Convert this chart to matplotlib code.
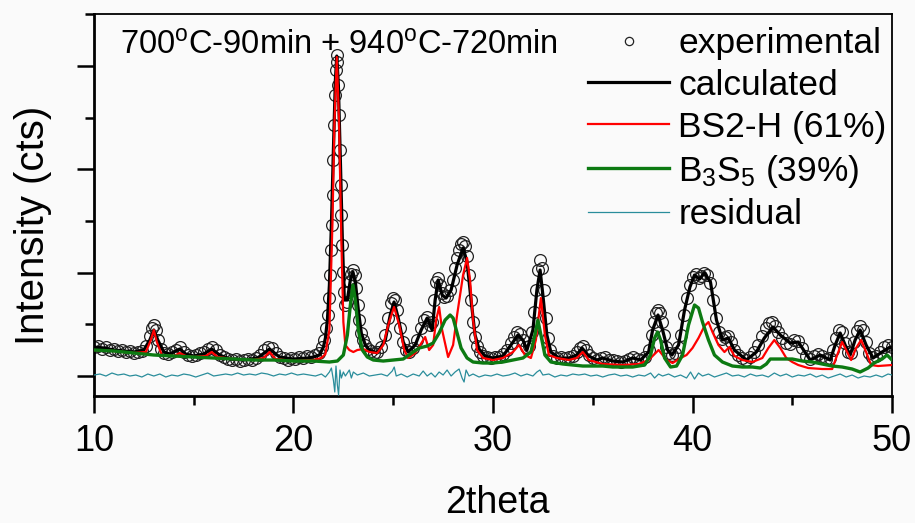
import matplotlib
matplotlib.use("Agg")
import matplotlib.pyplot as plt
from matplotlib.ticker import MultipleLocator

plt.rcParams['font.family'] = ['Liberation Sans', 'DejaVu Sans']
plt.rcParams['mathtext.default'] = 'regular'

# experimental points (2theta, counts)
exp_2theta = [10.0, 10.2, 10.4, 10.6, 10.8, 11.0, 11.2, 11.4, 11.6, 11.8, 12.0, 12.2, 12.4, 12.6, 12.8, 12.9,
              13.0, 13.1, 13.2, 13.35, 13.5, 13.7, 13.9, 14.1, 14.3, 14.5, 14.7, 14.9, 15.1, 15.3, 15.5, 15.7,
              15.9, 16.1, 16.3, 16.5, 16.7, 16.9, 17.1, 17.3, 17.5, 17.7, 17.9, 18.1, 18.3, 18.5, 18.7, 18.9,
              19.1, 19.3, 19.5, 19.7, 19.9, 20.1, 20.3, 20.5, 20.7, 20.9, 21.1, 21.3, 21.45, 21.55, 21.65, 21.72,
              21.78, 21.84, 21.88, 21.92, 21.96, 22.0, 22.04, 22.08, 22.12, 22.16, 22.2, 22.24, 22.28, 22.32,
              22.36, 22.4, 22.44, 22.48, 22.52, 22.58, 22.66, 22.74, 22.82, 22.9, 22.98, 23.06, 23.14, 23.22,
              23.3, 23.4, 23.5, 23.6, 23.75, 23.9, 24.05, 24.2, 24.4, 24.6, 24.75, 24.9, 25.0, 25.1, 25.2, 25.35,
              25.5, 25.65, 25.8, 26.0, 26.2, 26.4, 26.55, 26.7, 26.85, 26.95, 27.05, 27.15, 27.25, 27.35, 27.45,
              27.55, 27.7, 27.85, 28.0, 28.1, 28.2, 28.3, 28.4, 28.5, 28.6, 28.7, 28.8, 28.9, 29.0, 29.1, 29.2,
              29.35, 29.5, 29.7, 29.9, 30.1, 30.3, 30.5, 30.7, 30.9, 31.05, 31.2, 31.35, 31.5, 31.65, 31.8, 31.95,
              32.05, 32.15, 32.25, 32.35, 32.45, 32.55, 32.65, 32.75, 32.85, 33.0, 33.2, 33.4, 33.6, 33.8, 34.0,
              34.2, 34.35, 34.5, 34.65, 34.8, 35.0, 35.2, 35.4, 35.6, 35.8, 36.0, 36.2, 36.4, 36.6, 36.8, 37.0,
              37.2, 37.4, 37.6, 37.8, 37.95, 38.05, 38.15, 38.25, 38.35, 38.45, 38.55, 38.65, 38.8, 38.95, 39.1,
              39.25, 39.4, 39.55, 39.7, 39.85, 40.0, 40.15, 40.3, 40.45, 40.6, 40.75, 40.9, 41.05, 41.2, 41.35,
              41.5, 41.65, 41.8, 41.95, 42.1, 42.3, 42.5, 42.7, 42.9, 43.1, 43.3, 43.5, 43.7, 43.85, 44.0, 44.15,
              44.3, 44.5, 44.7, 44.9, 45.1, 45.3, 45.5, 45.7, 45.9, 46.1, 46.3, 46.5, 46.7, 46.9, 47.05, 47.2,
              47.35, 47.5, 47.65, 47.8, 47.95, 48.1, 48.25, 48.4, 48.55, 48.7, 48.85, 49.0, 49.2, 49.4, 49.6,
              49.8, 50.0]
exp_cts = [290, 300, 270, 290, 260, 270, 250, 260, 240, 250, 230, 240, 250, 300, 400, 480,
           510, 460, 360, 270, 230, 220, 240, 260, 290, 240, 210, 200, 210, 230, 240, 270,
           290, 260, 210, 190, 170, 160, 170, 150, 160, 170, 160, 180, 210, 260, 290, 280,
           230, 190, 180, 160, 180, 170, 190, 180, 200, 190, 210, 230, 290, 360, 480, 610,
           780, 1010, 1260, 1510, 1810, 2160, 2510, 2810, 3060, 3210, 3140, 2910, 2610, 2260,
           1910, 1610, 1310, 1040, 840, 710, 740, 840, 940, 1020, 1060, 1010, 880, 710,
           560, 430, 360, 310, 270, 250, 230, 240, 290, 410, 580, 730, 780, 760, 660, 480,
           340, 260, 240, 280, 360, 480, 560, 590, 510, 540, 760, 940, 980, 910, 830,
           790, 800, 860, 960, 1080, 1180, 1260, 1320, 1340, 1300, 1200, 1010, 760, 540, 390, 300,
           240, 200, 190, 180, 190, 190, 220, 260, 330, 390, 440, 420, 360, 290, 300, 440,
           640, 860, 1060, 1160, 1080, 860, 580, 380, 260, 200, 180, 190, 180, 190, 200,
           240, 280, 300, 260, 210, 180, 160, 180, 190, 160, 160, 150, 140, 150, 170, 190,
           170, 160, 190, 260, 410, 540, 630, 660, 630, 540, 410, 290, 230, 210, 230,
           290, 410, 610, 780, 910, 990, 1020, 980, 1000, 1030, 1010, 930, 760, 580, 440,
           370, 390, 400, 340, 260, 210, 180, 160, 190, 240, 310, 400, 480, 530, 540, 500,
           440, 380, 330, 320, 360, 350, 280, 200, 170, 200, 220, 200, 170, 180, 260, 380,
           460, 440, 330, 240, 230, 340, 450, 500, 460, 340, 230, 190, 200, 240, 290,
           310, 290]

# calculated profile
calc_2theta = [10.0, 10.5, 11.0, 11.5, 12.0, 12.5, 12.8, 13.0, 13.2, 13.5, 13.8, 14.3, 14.6, 15.0, 15.5, 15.9,
               16.3, 16.8, 17.5, 18.2, 18.8, 19.3, 20.0, 20.7, 21.0, 21.3, 21.5, 21.6, 21.7, 21.8, 21.9, 22.0,
               22.1, 22.17, 22.25, 22.35, 22.45, 22.55, 22.7, 22.85, 22.98, 23.1, 23.25, 23.4, 23.6, 23.8, 24.2,
               24.6, 24.85, 25.04, 25.25, 25.5, 25.74, 26.1, 26.4, 26.7, 26.95, 27.1, 27.25, 27.45, 27.65, 27.9,
               28.2, 28.5, 28.7, 28.9, 29.1, 29.3, 29.6, 30.0, 30.5, 30.9, 31.25, 31.5, 31.7, 32.0, 32.2, 32.36,
               32.5, 32.7, 32.9, 33.3, 33.8, 34.2, 34.46, 34.8, 35.2, 35.5, 36.0, 36.5, 37.0, 37.4, 37.8, 38.0,
               38.27, 38.5, 38.75, 38.97, 39.3, 39.6, 39.87, 40.1, 40.35, 40.6, 40.9, 41.2, 41.5, 41.8, 42.1,
               42.7, 43.2, 43.6, 44.03, 44.4, 44.9, 45.3, 45.9, 46.4, 46.9, 47.15, 47.4, 47.65, 47.9, 48.15,
               48.4, 48.7, 49.05, 49.5, 49.9, 50.0]
calc_cts = [290, 280, 260, 250, 240, 260, 360, 460, 360, 240, 220, 270, 220, 200, 220, 270,
            210, 170, 160, 180, 270, 190, 170, 180, 190, 210, 290, 380, 560, 910, 1510, 2260,
            2960, 3200, 2910, 2160, 1360, 760, 760, 960, 1040, 940, 660, 430, 310, 260, 230,
            360, 610, 740, 580, 340, 240, 310, 460, 580, 460, 760, 960, 810, 780, 860,
            1110, 1280, 1140, 760, 410, 270, 200, 180, 200, 310, 410, 360, 260, 460, 860, 1060,
            810, 410, 240, 180, 180, 210, 280, 200, 160, 180, 150, 140, 180, 160, 240, 460,
            610, 460, 260, 210, 310, 660, 890, 1010, 970, 1030, 940, 560, 360, 380, 260,
            160, 240, 380, 490, 410, 330, 340, 160, 210, 160, 310, 430, 310, 210, 360,
            460, 310, 180, 240, 290, 280]

# BS2-H phase
bs2h_2theta = [10.0, 11.0, 12.0, 12.6, 12.85, 13.0, 13.15, 13.4, 14.0, 14.3, 14.6, 15.0, 15.6, 15.9, 16.2,
               17.0, 18.0, 18.5, 18.8, 19.1, 20.0, 21.0, 21.4, 21.6, 21.8, 21.95, 22.05, 22.17, 22.28, 22.4,
               22.5, 22.6, 22.8, 23.0, 23.2, 23.5, 23.8, 24.2, 24.5, 24.75, 25.04, 25.3, 25.55, 25.75, 26.1,
               26.35, 26.6, 26.8, 27.0, 27.15, 27.3, 27.45, 27.75, 28.0, 28.2, 28.5, 28.7, 28.85, 29.0, 29.2,
               29.5, 30.0, 30.5, 31.0, 31.3, 31.6, 31.9, 32.15, 32.4, 32.6, 32.8, 33.2, 33.8, 34.2, 34.5, 34.8,
               35.5, 36.5, 37.3, 37.8, 38.3, 38.7, 39.0, 39.4, 39.7, 40.0, 40.3, 40.6, 40.8, 41.0, 41.3, 41.6,
               41.85, 42.1, 42.5, 43.0, 43.5, 43.8, 44.1, 44.4, 44.7, 45.0, 45.3, 45.8, 46.5, 47.0, 47.25,
               47.5, 47.75, 47.95, 48.2, 48.45, 48.7, 48.95, 49.3, 50.0]
bs2h_cts = [260, 250, 230, 240, 360, 460, 340, 210, 200, 230, 200, 190, 200, 240, 190,
            170, 160, 180, 240, 170, 150, 160, 180, 220, 460, 1510, 2510, 3190, 2560, 1360,
            540, 310, 260, 240, 260, 270, 240, 230, 310, 510, 690, 510, 260, 180, 230,
            310, 390, 260, 310, 560, 690, 460, 190, 310, 610, 1010, 1180, 960, 560, 260,
            180, 160, 180, 240, 310, 210, 180, 360, 780, 410, 210, 180, 160, 180, 240, 160,
            120, 110, 120, 160, 260, 160, 130, 180, 210, 280, 380, 500, 540, 440, 310, 240,
            290, 200, 160, 140, 180, 280, 360, 280, 180, 140, 110, 80, 70, 70, 210,
            340, 240, 160, 280, 360, 240, 110, 100, 110]

# B3S5 phase
b3s5_2theta = [10.0, 11.0, 12.0, 13.0, 14.0, 15.0, 16.0, 17.0, 18.0, 19.0, 20.0, 21.0, 21.8, 22.2, 22.5,
               22.7, 22.85, 22.98, 23.1, 23.25, 23.45, 23.7, 24.0, 24.5, 25.0, 25.5, 26.0, 26.3, 26.7, 27.0,
               27.3, 27.6, 27.85, 28.0, 28.2, 28.4, 28.7, 29.0, 29.5, 30.0, 30.5, 31.0, 31.5, 31.9, 32.1,
               32.25, 32.4, 32.6, 32.9, 33.5, 34.0, 34.5, 35.0, 35.5, 36.0, 37.0, 37.6, 37.9, 38.1, 38.25,
               38.4, 38.6, 38.9, 39.2, 39.5, 39.8, 40.1, 40.3, 40.5, 40.8, 41.1, 41.5, 42.0, 42.5, 43.0,
               43.4, 43.7, 43.9, 44.5, 45.0, 45.5, 46.0, 46.5, 47.0, 47.5, 48.0, 48.4, 48.8, 49.1, 49.5,
               49.75, 50.0]
b3s5_cts = [260, 250, 230, 210, 200, 190, 180, 170, 160, 160, 150, 150, 140, 150, 210,
            410, 710, 910, 760, 460, 260, 190, 160, 150, 160, 170, 240, 280, 300, 330,
            430, 560, 610, 580, 430, 280, 180, 140, 130, 130, 140, 160, 180, 240, 410,
            560, 410, 210, 140, 120, 110, 100, 100, 100, 90, 90, 110, 210, 380, 440,
            360, 180, 90, 100, 210, 510, 710, 680, 540, 360, 210, 140, 100, 90, 90,
            80, 120, 170, 170, 170, 150, 140, 120, 100, 90, 70, 40, 80, 130, 170,
            210, 160]

# residual (obs - calc)
res_2theta = [10.0, 10.3, 10.6, 10.9, 11.2, 11.5, 11.8, 12.1, 12.4, 12.7, 13.0, 13.3, 13.6, 13.9, 14.2,
              14.5, 14.8, 15.1, 15.4, 15.7, 16.0, 16.3, 16.6, 16.9, 17.2, 17.5, 17.8, 18.1, 18.4, 18.7,
              19.0, 19.3, 19.6, 19.9, 20.2, 20.5, 20.8, 21.1, 21.4, 21.6, 21.8, 21.9, 22.0, 22.07, 22.13,
              22.2, 22.26, 22.33, 22.4, 22.5, 22.6, 22.8, 22.9, 23.0, 23.2, 23.5, 23.8, 24.1, 24.4, 24.7,
              24.95, 25.05, 25.15, 25.4, 25.7, 26.0, 26.3, 26.5, 26.7, 26.9, 27.1, 27.3, 27.5, 27.7, 27.9,
              28.1, 28.3, 28.45, 28.55, 28.65, 28.8, 29.0, 29.3, 29.6, 29.9, 30.2, 30.5, 30.8, 31.1, 31.4,
              31.7, 32.0, 32.2, 32.35, 32.5, 32.8, 33.1, 33.4, 33.7, 34.0, 34.3, 34.6, 34.9, 35.2, 35.5,
              35.8, 36.1, 36.4, 36.7, 37.0, 37.3, 37.6, 37.9, 38.1, 38.3, 38.5, 38.8, 39.1, 39.4, 39.7,
              39.9, 40.1, 40.3, 40.5, 40.8, 41.1, 41.4, 41.7, 42.0, 42.3, 42.6, 42.9, 43.2, 43.5, 43.8,
              44.1, 44.4, 44.7, 45.0, 45.3, 45.6, 45.9, 46.2, 46.5, 46.8, 47.1, 47.4, 47.7, 48.0, 48.3,
              48.6, 48.9, 49.2, 49.5, 49.8, 50.0]
res_cts = [10, 20, 0, 30, 10, 20, 0, 10, -10, 20, 0, 20, -10, 10, 0,
           20, 10, -10, 10, 30, 0, 10, 20, 10, 30, 10, 20, 10, 30, 20,
           0, 20, 10, 30, 10, 20, 10, 0, 20, -10, 40, 80, -40, -160, 100,
           -90, -190, 60, -20, 40, 0, 60, -20, 40, 10, 30, 0, 10, 20, 0,
           50, 90, 0, 20, -10, 20, 0, 50, 0, 30, -10, 40, 10, 60, 0,
           40, 70, -20, -60, 60, 0, 20, -10, 10, 0, 20, 0, 10, 30, 0,
           20, 0, 40, 60, 10, 20, -10, 10, 0, 20, 10, 20, 0, 10, -10,
           10, 20, 0, 10, -10, 10, 0, 30, -20, 20, 0, 20, -10, 10, -20,
           40, -30, 30, 0, 20, -10, 10, 30, 0, 10, -10, 20, 0, 10, -10,
           30, 0, 20, -10, 10, 0, 20, -10, 10, -20, 0, 20, -10, 10, -20,
           0, -10, 10, -10, 20, 10]

fig = plt.figure(figsize=(9.15, 5.23), dpi=100, facecolor='#fafafa')
ax = fig.add_axes([0.1027, 0.2428, 0.8722, 0.7304], facecolor='#fafafa')

ax.plot(exp_2theta, exp_cts, 'o', mfc='none', mec='#222222', mew=0.9, ms=8.5, label='experimental', zorder=2)
ax.plot(calc_2theta, calc_cts, color='black', lw=2.3, label='calculated', zorder=3)
ax.plot(bs2h_2theta, bs2h_cts, color='#ff0000', lw=1.6, label='BS2-H (61%)', zorder=4)
ax.plot(b3s5_2theta, b3s5_cts, color='#0c7a12', lw=2.4, label='B$_3$S$_5$ (39%)', zorder=5)
ax.plot(res_2theta, res_cts, color='#2a8d9b', lw=0.9, label='residual', zorder=6)

ax.set_xlim(10, 50)
ax.set_ylim(-200, 3620)
ax.xaxis.set_major_locator(MultipleLocator(10))
ax.xaxis.set_minor_locator(MultipleLocator(5))
ax.yaxis.set_major_locator(MultipleLocator(1033))
ax.yaxis.set_minor_locator(MultipleLocator(516.5))
ax.tick_params(which='major', direction='out', length=12, width=1.8, labelsize=26, pad=8)
ax.tick_params(which='minor', direction='out', length=6.5, width=1.8)
ax.tick_params(axis='y', labelleft=False)
for s in ['left', 'bottom']:
    ax.spines[s].set_linewidth(2.0)
for s in ['top', 'right']:
    ax.spines[s].set_linewidth(1.3)

# x label sits low, right at the bottom edge like the original
fig.text(497 / 915, 2 / 523, '2theta', ha='center', va='bottom', fontsize=27)
fig.text(33 / 915, 1 - 225 / 523, 'Intensity (cts)', ha='center', va='center', rotation=90, fontsize=29)
ax.text(0.032, 0.917, '700$^{o}$C-90min + 940$^{o}$C-720min', transform=ax.transAxes,
        ha='left', va='center', fontsize=23.5)

leg = ax.legend(loc='upper left', bbox_to_anchor=(588 / 915, 1 - 27 / 523), bbox_transform=fig.transFigure,
                frameon=False, fontsize=25.5, handlelength=2.3, handletextpad=0.25, labelspacing=0.25,
                borderpad=0, borderaxespad=0, numpoints=1, markerscale=0.7)

fig.savefig('out.png', dpi=100, facecolor=fig.get_facecolor())
